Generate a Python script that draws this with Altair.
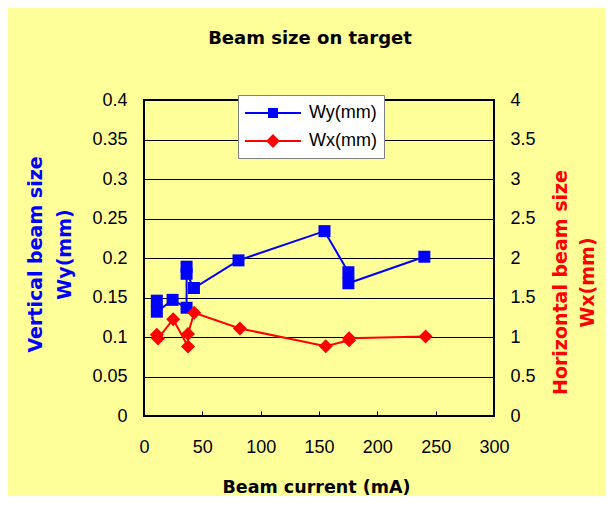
import altair as alt
import pandas as pd

# ---- data ----
series_names = ["Wy(mm)", "Wx(mm)"]
series_colors = ["#0000FF", "#FF0000"]

wy_current = [11, 11, 24.5, 36.5, 36.5, 36.5, 42.8, 81, 154.7, 175.2, 175.2, 240.3]
wy_values = [0.146, 0.132, 0.147, 0.137, 0.189, 0.180, 0.162, 0.197, 0.234, 0.182, 0.168, 0.2016]

wx_current = [11, 12, 25, 37.7, 37.7, 43, 82.2, 155.8, 175.8, 175.8, 241.4]
wx_values = [1.03, 0.98, 1.225, 0.879, 1.037, 1.307, 1.108, 0.883, 0.96, 0.985, 1.007]

x_ticks = [0, 50, 100, 150, 200, 250, 300]
wy_ticks = [0, 0.05, 0.1, 0.15, 0.2, 0.25, 0.3, 0.35, 0.4]
wx_ticks = [0, 0.5, 1, 1.5, 2, 2.5, 3, 3.5, 4]

# legend symbols: line with marker
sq_path = "M-2.8,0H2.8M-0.4,-0.4H0.4V0.4H-0.4Z"
di_path = "M-2.8,0H2.8M0,-0.55L0.55,0L0,0.55L-0.55,0Z"

wy_df = pd.DataFrame({"current": wy_current, "value": wy_values, "order": list(range(len(wy_values)))})
wx_df = pd.DataFrame({"current": wx_current, "value": wx_values, "order": list(range(len(wx_values)))})
leg_df = pd.DataFrame({"series": series_names})

x_enc = alt.X(
    "current:Q",
    scale=alt.Scale(domain=[0, 300], nice=False, zero=False),
    axis=alt.Axis(
        values=x_ticks, grid=False, domain=False, labelFlush=False,
        tickSize=alt.ExprRef("-5"), tickColor="black", tickWidth=1,
        labelPadding=27,
        title="Beam current (mA)", titleFontSize=17.5, titleX=172, titleY=71,
        titleBaseline="middle", titleAlign="center",
    ),
)

y_wy = alt.Y(
    "value:Q",
    scale=alt.Scale(domain=[0, 0.4], nice=False),
    axis=alt.Axis(
        orient="left", values=wy_ticks, format=".2~f", grid=True,
        gridColor="black", gridWidth=1, gridOpacity=1, ticks=False, domain=False,
        labelPadding=17, labelFlush=False,
        title=["Vertical beam size", "Wy(mm)"], titleColor="#0000FF",
        titleFontSize=19, titleAngle=270, titleX=-108.5, titleY=154,
        titleBaseline="middle", titleAlign="center", titleLineHeight=29,
    ),
)

y_wx = alt.Y(
    "value:Q",
    scale=alt.Scale(domain=[0, 4], nice=False),
    axis=alt.Axis(
        orient="right", values=wx_ticks, format=".1~f", grid=False,
        ticks=False, domain=False, labelPadding=16, labelFlush=False,
        title=["Horizontal beam size", "Wx(mm)"], titleColor="#FF0000",
        titleFontSize=19, titleAngle=270, titleX=66.6, titleY=182,
        titleBaseline="middle", titleAlign="center", titleLineHeight=27,
    ),
)

wy_line = alt.Chart(wy_df).mark_line(color=series_colors[0], strokeWidth=2).encode(
    x=x_enc, y=y_wy, order="order:Q")
wy_pts = alt.Chart(wy_df).mark_point(
    shape="square", filled=True, size=144, color=series_colors[0], opacity=1).encode(x=x_enc, y=y_wy)

wx_line = alt.Chart(wx_df).mark_line(color=series_colors[1], strokeWidth=2).encode(
    x=x_enc, y=y_wx, order="order:Q")
wx_pts = alt.Chart(wx_df).mark_point(
    shape="diamond", filled=True, size=196, color=series_colors[1], opacity=1).encode(x=x_enc, y=y_wx)

legend = alt.Legend(
    orient="none", legendX=94, legendY=-5, title=None, direction="vertical",
    fillColor="white", strokeColor="#808080", padding=7, rowPadding=8,
    labelOffset=25, symbolOffset=17, symbolSize=400, symbolStrokeWidth=2,
    labelFont="Liberation Sans", labelFontSize=18, labelColor="black", cornerRadius=0,
)
col_scale = alt.Scale(domain=series_names, range=series_colors)
helper = alt.Chart(leg_df).mark_point(filled=True, opacity=1, strokeWidth=2).encode(
    fill=alt.Fill("series:N", scale=col_scale, legend=legend),
    stroke=alt.Stroke("series:N", scale=col_scale, legend=legend),
    shape=alt.Shape("series:N", scale=alt.Scale(domain=series_names, range=[sq_path, di_path]), legend=legend),
).transform_filter("false")

chart = alt.layer(
    alt.layer(wy_line, wy_pts),
    alt.layer(wx_line, wx_pts),
    helper,
).resolve_scale(y="independent").properties(
    width=350, height=316,
    autosize=alt.AutoSizeParams(type="none"),
    padding={"left": 136, "top": 92, "right": 112, "bottom": 80},
    background="#FFFF99",
    title=alt.TitleParams(
        "Beam size on target", anchor="middle", dx=-9, offset=43,
        font="DejaVu Sans", fontSize=18, fontWeight="bold", color="black",
    ),
).configure_view(
    stroke="black", strokeWidth=2, fill="white"
).configure_axis(
    labelFont="Liberation Sans", labelFontSize=18, labelColor="black",
    titleFont="DejaVu Sans", titleFontWeight="bold", titleColor="black",
)

chart.save("out.html", embed_options={"renderer": "svg", "actions": False})
